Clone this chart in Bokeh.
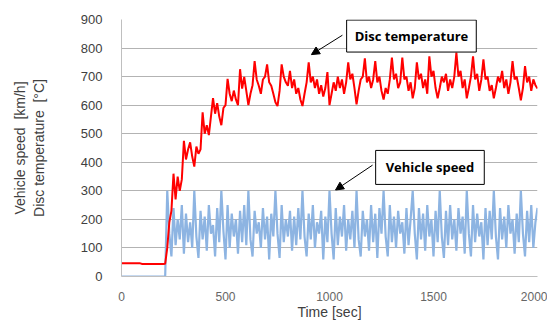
from bokeh.plotting import figure
from bokeh.models import Label, Arrow, NormalHead, Range1d, FixedTicker
from bokeh.embed import file_html
from bokeh.resources import INLINE

# ---- data (10 s sampling) ----
time_step_sec = 10
speed_kmh = [
    0, 0, 0, 0, 0, 0, 0, 0, 0, 0, 0, 0, 0, 0, 0, 0, 0, 0, 0, 0, 0, 0,
    300, 150, 70, 240, 110, 200, 130, 250, 80, 220, 120, 190, 100,
    300, 140, 65, 230, 130, 210, 90, 250, 150, 180, 70, 240, 120,
    300, 160, 60, 250, 100, 220, 140, 200, 80, 230, 120, 250, 110,
    300, 130, 70, 230, 150, 190, 100, 240, 130, 210, 60, 220, 140,
    300, 150, 65, 250, 120, 200, 140, 230, 90, 210, 110, 240, 130,
    300, 140, 70, 220, 130, 250, 100, 190, 150, 230, 60, 210, 120,
    300, 150, 60, 240, 110, 210, 140, 250, 90, 200, 130, 230, 100,
    300, 130, 70, 230, 140, 200, 90, 250, 120, 220, 65, 240, 150,
    300, 140, 70, 250, 120, 210, 100, 230, 150, 190, 80, 240, 110, 200,
    300, 150, 60, 240, 130, 220, 90, 250, 140, 200, 70, 230, 120,
    300, 140, 65, 230, 110, 250, 130, 200, 90, 240, 150, 210, 80,
    300, 150, 70, 250, 120, 220, 140, 190, 60, 240, 110, 230, 130,
    300, 140, 60, 240, 130, 210, 100, 250, 150, 200, 80, 220, 120,
    300, 150, 70, 230, 120, 250, 100, 190, 240,
]
disc_temp_c = [
    46, 46, 46, 46, 46, 46, 46, 46, 46, 46, 44, 44, 44, 44, 44, 44, 44, 44, 44, 44, 44, 45,
    100, 190, 230, 360, 270, 350, 300, 340, 475, 410, 445, 470, 420, 385, 455, 430, 445, 575,
    500, 530, 495, 560, 625, 570, 607, 560, 530, 590, 600, 692, 640, 614, 651, 620, 600, 726,
    658, 699, 650, 600, 640, 670, 754, 690, 668, 640, 690, 700, 743, 680, 668, 640, 610, 597,
    650, 743, 700, 680, 668, 720, 660, 690, 640, 660, 620, 597, 640, 680, 750, 680, 700, 660,
    690, 640, 670, 630, 660, 716, 600, 640, 680, 650, 700, 660, 690, 640, 680, 750, 690, 710,
    660, 603, 650, 690, 700, 764, 680, 700, 660, 690, 754, 680, 700, 650, 620, 660, 640, 690,
    767, 690, 710, 660, 680, 767, 690, 700, 650, 680, 624, 660, 750, 690, 710, 660, 690, 640,
    771, 700, 720, 660, 624, 660, 700, 680, 710, 650, 690, 660, 700, 784, 700, 720, 660, 690,
    624, 660, 700, 771, 690, 710, 650, 690, 760, 690, 700, 650, 670, 624, 660, 700, 680, 720,
    660, 690, 640, 680, 754, 690, 700, 660, 617, 660, 737, 680, 700, 650, 690, 670, 658,
]
x_ticks = [0, 500, 1000, 1500, 2000]
y_ticks = [0, 100, 200, 300, 400, 500, 600, 700, 800, 900]

t_speed = [i * time_step_sec for i in range(len(speed_kmh))]
t_temp = [i * time_step_sec for i in range(len(disc_temp_c))]

p = figure(width=547, height=322, output_backend="svg", toolbar_location=None,
           x_range=Range1d(0, 2000), y_range=Range1d(0, 900),
           min_border_left=121, min_border_right=10, min_border_top=19, min_border_bottom=39)
p.outline_line_color = None
p.background_fill_color = "white"
p.border_fill_color = "white"

p.xgrid.grid_line_color = None
p.ygrid.grid_line_color = "#b3b3b3"
p.ygrid.grid_line_width = 1

p.xaxis.ticker = FixedTicker(ticks=x_ticks)
p.yaxis.ticker = FixedTicker(ticks=y_ticks)
for ax in (p.xaxis, p.yaxis):
    ax.major_tick_line_color = None
    ax.minor_tick_line_color = None
    ax.axis_line_color = "#bfbfbf"
    ax.major_label_text_font = "Liberation Sans"
    ax.axis_label_text_font = "Liberation Sans"
    ax.axis_label_text_font_style = "normal"
    ax.axis_label_text_font_size = "14px"
    ax.axis_label_text_color = "#404040"
p.yaxis.major_label_text_font_size = "13px"
p.yaxis.major_label_text_color = "#404040"
p.yaxis.major_label_standoff = 13
p.xaxis.major_label_text_font_size = "12px"
p.xaxis.major_label_text_color = "#666666"
p.xaxis.major_label_standoff = 9

p.yaxis.axis_label = "Vehicle speed\u00a0 [km/h]\nDisc temperature\u00a0 [°C]"
p.yaxis.axis_label_text_line_height = 1.15
p.yaxis.axis_label_standoff = 31
p.xaxis.axis_label = "Time [sec]"
p.xaxis.axis_label_standoff = 0

p.line(t_speed, speed_kmh, line_color="#8db4e2", line_width=2.2)
p.line(t_temp, disc_temp_c, line_color="#ff0000", line_width=2)

# callouts
p.add_layout(Arrow(end=NormalHead(size=8, fill_color="black", line_color="black"),
                   x_start=1062, y_start=845, x_end=913, y_end=777,
                   line_color="black", line_width=1))
p.add_layout(Arrow(end=NormalHead(size=8, fill_color="black", line_color="black"),
                   x_start=1207, y_start=390, x_end=1029, y_end=303,
                   line_color="black", line_width=1))
p.add_layout(Label(x=1394, y=842, text="Disc temperature", text_align="center",
                   text_baseline="middle", text_font="Open Sans", text_font_style="bold",
                   text_font_size="13px", text_color="black",
                   background_fill_color="white", border_line_color="black",
                   border_line_width=1, padding=dict(left=8, right=8, top=7, bottom=7)))
p.add_layout(Label(x=1483, y=382, text="Vehicle speed", text_align="center",
                   text_baseline="middle", text_font="Open Sans", text_font_style="bold",
                   text_font_size="13px", text_color="black",
                   background_fill_color="white", border_line_color="black",
                   border_line_width=1, padding=dict(left=10, right=10, top=8, bottom=8)))

open("out.html", "w").write(file_html(p, INLINE))
